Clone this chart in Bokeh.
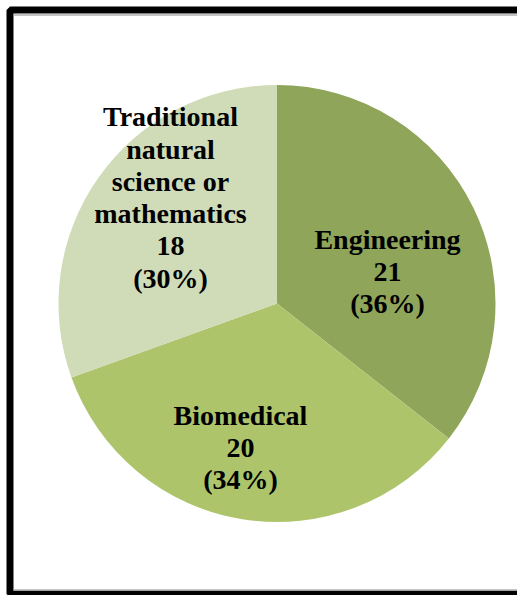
import math
from bokeh.plotting import figure
from bokeh.models import Range1d, ColumnDataSource
from bokeh.core.properties import value
from bokeh.embed import file_html
from bokeh.resources import INLINE

# ---- data ----
categories = ["Engineering", "Biomedical", "Traditional\nnatural\nscience or\nmathematics"]
counts = [21, 20, 18]
pct_labels = ["36%", "34%", "30%"]
colors = ["#8FA55A", "#ADC46B", "#D0DBB8"]

# ---- layout (screen-like coordinates: x right, y down from image top) ----
W, H = 517, 595
cx, cy_screen, R = 276.5, 303, 218.5
label_pos_screen = [(387, 271), (240, 447), (170, 197)]

def sy(y):  # screen y -> data y
    return H - y

total = sum(counts)
fracs = [c / total for c in counts]
starts, ends = [], []
a = math.pi / 2
for f in fracs:
    starts.append(a)
    a -= f * 2 * math.pi
    ends.append(a)

labels = [f"{c}\n{n}\n({pc})" for c, n, pc in zip(categories, counts, pct_labels)]

src = ColumnDataSource(dict(
    x=[cx] * 3, y=[sy(cy_screen)] * 3, start=starts, end=ends, color=colors,
))
lsrc = ColumnDataSource(dict(
    x=[p[0] for p in label_pos_screen], y=[sy(p[1]) for p in label_pos_screen], text=labels,
))

p = figure(width=W, height=H, x_range=Range1d(0, W), y_range=Range1d(0, H),
           output_backend="svg", toolbar_location=None,
           x_axis_type=None, y_axis_type=None, min_border=0)
p.grid.visible = False
p.outline_line_color = None
p.background_fill_color = "white"
p.border_fill_color = "white"

p.wedge(x="x", y="y", radius=R, start_angle="start", end_angle="end",
        direction="clock", fill_color="color", line_color=None, source=src)

p.text(x="x", y="y", text="text", source=lsrc, text_align="center", text_baseline="middle",
       text_font=value("Liberation Serif"), text_font_style="bold", text_font_size="28px",
       text_line_height=1.04, text_color="black")

# frame border (top, left, bottom visible; right is cropped)
p.quad(left=9.5, right=560, top=sy(9.5), bottom=sy(593.5), fill_color=None,
       line_color="black", line_width=7)
p.line(x=[13, 560], y=[sy(14.5)] * 2, line_color="#b0b0b0", line_width=1.5)
p.line(x=[13, 560], y=[sy(589.5)] * 2, line_color="#b0b0b0", line_width=1.5)

open("out.html", "w").write(file_html(p, INLINE))
